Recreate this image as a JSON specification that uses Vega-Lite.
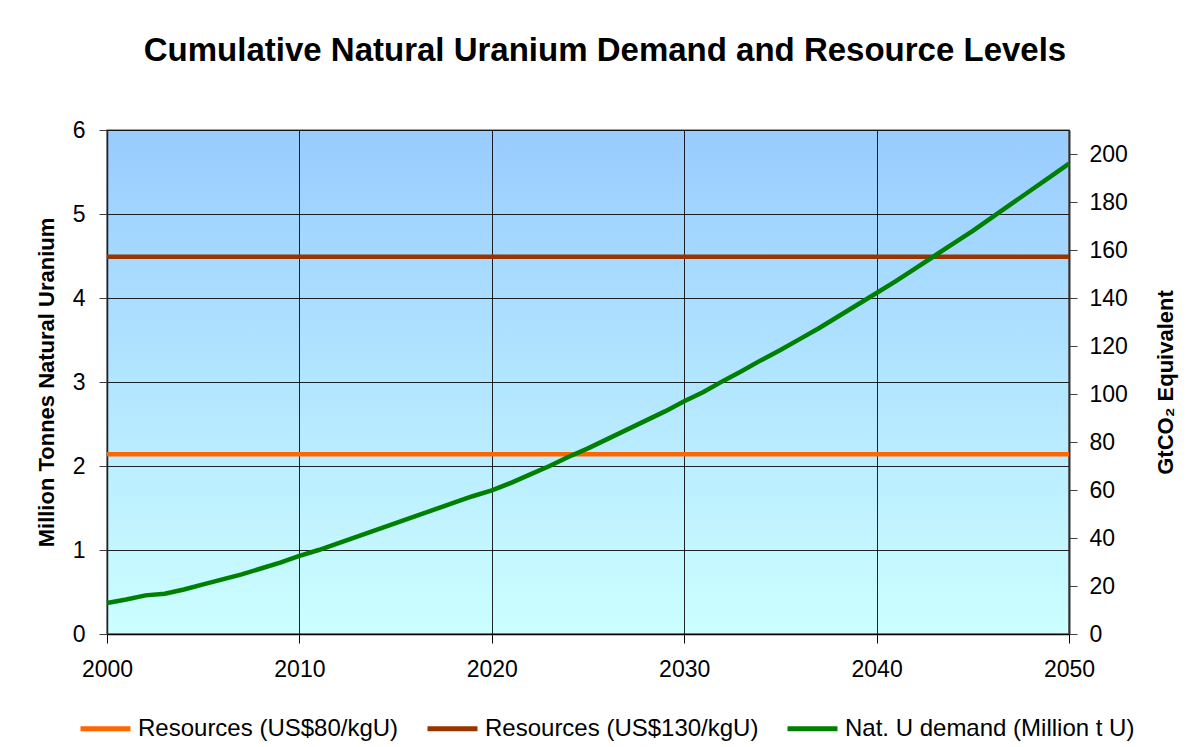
{
  "$schema": "https://vega.github.io/schema/vega-lite/v6.json",
  "width": 962,
  "height": 504,
  "autosize": {"type": "none"},
  "padding": {"left": 107, "top": 130, "right": 123, "bottom": 113},
  "background": "white",
  "title": {
    "text": "Cumulative Natural Uranium Demand and Resource Levels",
    "font": "Liberation Sans",
    "fontSize": 33,
    "fontWeight": "bold",
    "color": "black",
    "anchor": "middle",
    "dx": 17,
    "offset": 51
  },
  "view": {
    "fill": {"gradient": "linear", "x1": 0, "y1": 0, "x2": 0, "y2": 1, "stops": [{"offset": 0, "color": "#99CCFF"}, {"offset": 1, "color": "#CCFFFF"}]},
    "stroke": "#808080",
    "strokeWidth": 1.5
  },
  "datasets": {
    "main": [
      {"year": 2000, "value": 2.14, "series": "Resources (US$80/kgU)"},
      {"year": 2050, "value": 2.14, "series": "Resources (US$80/kgU)"},
      {"year": 2000, "value": 4.49, "series": "Resources (US$130/kgU)"},
      {"year": 2050, "value": 4.49, "series": "Resources (US$130/kgU)"},
      {"year": 2000, "value": 0.37, "series": "Nat. U demand (Million t U)"},
      {"year": 2001, "value": 0.41, "series": "Nat. U demand (Million t U)"},
      {"year": 2002, "value": 0.46, "series": "Nat. U demand (Million t U)"},
      {"year": 2003, "value": 0.48, "series": "Nat. U demand (Million t U)"},
      {"year": 2004, "value": 0.53, "series": "Nat. U demand (Million t U)"},
      {"year": 2005, "value": 0.59, "series": "Nat. U demand (Million t U)"},
      {"year": 2006, "value": 0.65, "series": "Nat. U demand (Million t U)"},
      {"year": 2007, "value": 0.71, "series": "Nat. U demand (Million t U)"},
      {"year": 2008, "value": 0.78, "series": "Nat. U demand (Million t U)"},
      {"year": 2009, "value": 0.85, "series": "Nat. U demand (Million t U)"},
      {"year": 2010, "value": 0.93, "series": "Nat. U demand (Million t U)"},
      {"year": 2011, "value": 1.0, "series": "Nat. U demand (Million t U)"},
      {"year": 2012, "value": 1.08, "series": "Nat. U demand (Million t U)"},
      {"year": 2013, "value": 1.16, "series": "Nat. U demand (Million t U)"},
      {"year": 2014, "value": 1.24, "series": "Nat. U demand (Million t U)"},
      {"year": 2015, "value": 1.32, "series": "Nat. U demand (Million t U)"},
      {"year": 2016, "value": 1.4, "series": "Nat. U demand (Million t U)"},
      {"year": 2017, "value": 1.48, "series": "Nat. U demand (Million t U)"},
      {"year": 2018, "value": 1.56, "series": "Nat. U demand (Million t U)"},
      {"year": 2019, "value": 1.64, "series": "Nat. U demand (Million t U)"},
      {"year": 2020, "value": 1.71, "series": "Nat. U demand (Million t U)"},
      {"year": 2021, "value": 1.8, "series": "Nat. U demand (Million t U)"},
      {"year": 2022, "value": 1.9, "series": "Nat. U demand (Million t U)"},
      {"year": 2023, "value": 2.0, "series": "Nat. U demand (Million t U)"},
      {"year": 2024, "value": 2.11, "series": "Nat. U demand (Million t U)"},
      {"year": 2025, "value": 2.21, "series": "Nat. U demand (Million t U)"},
      {"year": 2026, "value": 2.32, "series": "Nat. U demand (Million t U)"},
      {"year": 2027, "value": 2.43, "series": "Nat. U demand (Million t U)"},
      {"year": 2028, "value": 2.54, "series": "Nat. U demand (Million t U)"},
      {"year": 2029, "value": 2.65, "series": "Nat. U demand (Million t U)"},
      {"year": 2030, "value": 2.77, "series": "Nat. U demand (Million t U)"},
      {"year": 2031, "value": 2.88, "series": "Nat. U demand (Million t U)"},
      {"year": 2032, "value": 3.01, "series": "Nat. U demand (Million t U)"},
      {"year": 2033, "value": 3.13, "series": "Nat. U demand (Million t U)"},
      {"year": 2034, "value": 3.26, "series": "Nat. U demand (Million t U)"},
      {"year": 2035, "value": 3.38, "series": "Nat. U demand (Million t U)"},
      {"year": 2036, "value": 3.51, "series": "Nat. U demand (Million t U)"},
      {"year": 2037, "value": 3.64, "series": "Nat. U demand (Million t U)"},
      {"year": 2038, "value": 3.78, "series": "Nat. U demand (Million t U)"},
      {"year": 2039, "value": 3.92, "series": "Nat. U demand (Million t U)"},
      {"year": 2040, "value": 4.06, "series": "Nat. U demand (Million t U)"},
      {"year": 2041, "value": 4.2, "series": "Nat. U demand (Million t U)"},
      {"year": 2042, "value": 4.35, "series": "Nat. U demand (Million t U)"},
      {"year": 2043, "value": 4.5, "series": "Nat. U demand (Million t U)"},
      {"year": 2044, "value": 4.65, "series": "Nat. U demand (Million t U)"},
      {"year": 2045, "value": 4.8, "series": "Nat. U demand (Million t U)"},
      {"year": 2046, "value": 4.96, "series": "Nat. U demand (Million t U)"},
      {"year": 2047, "value": 5.12, "series": "Nat. U demand (Million t U)"},
      {"year": 2048, "value": 5.28, "series": "Nat. U demand (Million t U)"},
      {"year": 2049, "value": 5.44, "series": "Nat. U demand (Million t U)"},
      {"year": 2050, "value": 5.6, "series": "Nat. U demand (Million t U)"}
    ],
    "right": [{"g": 0}, {"g": 210}]
  },
  "layer": [
    {
      "data": {"name": "main"},
      "mark": {"type": "line", "strokeWidth": 4.5},
      "encoding": {
        "x": {
          "field": "year",
          "type": "quantitative",
          "scale": {"domain": [2000, 2050], "nice": false, "zero": false},
          "axis": {
            "values": [2000, 2010, 2020, 2030, 2040, 2050],
            "format": "d",
            "title": null,
            "labelFont": "Liberation Sans",
            "labelFontSize": 23,
            "labelColor": "black",
            "labelPadding": 15,
            "labelFlush": false,
            "tickSize": 9,
            "tickColor": "black",
            "domainColor": "black",
            "domainWidth": 1.5,
            "grid": true,
            "gridColor": "black",
            "gridWidth": 1,
            "gridOpacity": 0.85
          }
        },
        "y": {
          "field": "value",
          "type": "quantitative",
          "scale": {"domain": [0, 6], "nice": false},
          "axis": {
            "values": [0, 1, 2, 3, 4, 5, 6],
            "title": "Million Tonnes Natural Uranium",
            "titleFont": "Liberation Sans",
            "titleFontSize": 22,
            "titleFontWeight": "bold",
            "titleColor": "black",
            "titlePadding": 14,
            "labelFont": "Liberation Sans",
            "labelFontSize": 23,
            "labelColor": "black",
            "labelPadding": 14,
            "labelFlush": false,
            "tickSize": 8,
            "tickColor": "#404040",
            "domainColor": "#202020",
            "domainWidth": 1.5,
            "grid": true,
            "gridColor": "black",
            "gridWidth": 1,
            "gridOpacity": 0.85
          }
        },
        "color": {
          "field": "series",
          "type": "nominal",
          "sort": ["Resources (US$80/kgU)", "Resources (US$130/kgU)", "Nat. U demand (Million t U)"],
          "scale": {
            "domain": ["Resources (US$80/kgU)", "Resources (US$130/kgU)", "Nat. U demand (Million t U)"],
            "range": ["#FF6600", "#993300", "#008000"]
          },
          "legend": {
            "title": null,
            "orient": "none",
            "direction": "horizontal",
            "legendX": -29,
            "legendY": 571,
            "padding": 0,
            "symbolType": "stroke",
            "symbolSize": 2500,
            "symbolStrokeWidth": 5,
            "labelFont": "Liberation Sans",
            "labelFontSize": 24,
            "labelColor": "black",
            "labelOffset": 5,
            "labelLimit": 400,
            "columnPadding": 18
          }
        }
      }
    },
    {
      "data": {"name": "right"},
      "mark": {"type": "point", "opacity": 0},
      "encoding": {
        "y": {
          "field": "g",
          "type": "quantitative",
          "scale": {"domain": [0, 210], "nice": false},
          "axis": {
            "orient": "right",
            "values": [0, 20, 40, 60, 80, 100, 120, 140, 160, 180, 200],
            "grid": false,
            "title": "GtCO₂ Equivalent",
            "titleAngle": 270,
            "titleFont": "Liberation Sans",
            "titleFontSize": 22,
            "titleFontWeight": "bold",
            "titleColor": "black",
            "titlePadding": 50,
            "labelFont": "Liberation Sans",
            "labelFontSize": 23,
            "labelColor": "black",
            "labelPadding": 12,
            "labelFlush": false,
            "tickSize": 8,
            "tickColor": "#404040",
            "domainColor": "#303030",
            "domainWidth": 2
          }
        }
      }
    }
  ],
  "resolve": {"scale": {"y": "independent"}}
}
